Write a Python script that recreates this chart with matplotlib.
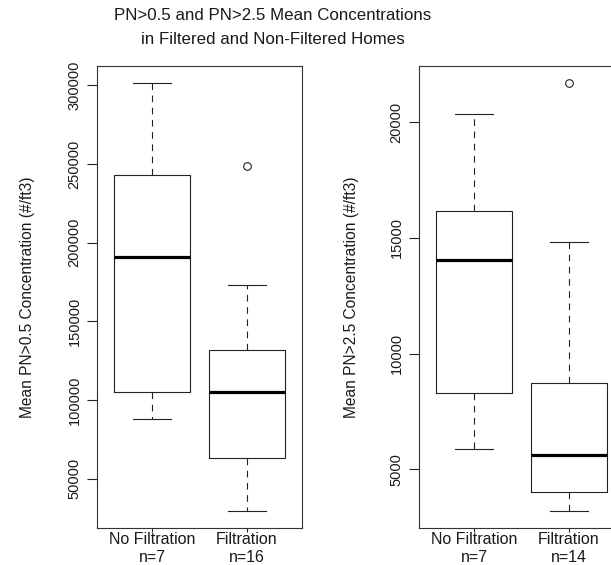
import matplotlib
matplotlib.use("Agg")
import matplotlib.pyplot as plt

plt.rcParams['font.family'] = ['Liberation Sans', 'DejaVu Sans']

# ---- data ----
categories = ["No Filtration", "Filtration"]
pn05_n = [7, 16]
pn05_whislo = [88000, 29600]
pn05_q1 = [104900, 63200]
pn05_med = [191000, 105100]
pn05_q3 = [243400, 131600]
pn05_whishi = [301500, 173000]
pn05_fliers = [[], [249100]]

pn25_n = [7, 14]
pn25_whislo = [5895, 3203]
pn25_q1 = [8289, 4024]
pn25_med = [14036, 5622]
pn25_q3 = [16180, 8734]
pn25_whishi = [20330, 14827]
pn25_fliers = [[], [21685]]

pn05_ticks = [50000, 100000, 150000, 200000, 250000, 300000]
pn25_ticks = [5000, 10000, 15000, 20000]

title_lines = ["PN>0.5 and PN>2.5 Mean Concentrations",
               "in Filtered and Non-Filtered Homes"]
ylabels = ["Mean PN>0.5 Concentration (#/ft3)", "Mean PN>2.5 Concentration (#/ft3)"]

W, H = 611, 565
fig = plt.figure(figsize=(W / 100, H / 100), dpi=100)
TXT = '#1a1a1a'


def make_stats(wlo, q1, med, q3, whi, fl):
    return [dict(whislo=a, q1=b, med=c, q3=d, whishi=e, fliers=f)
            for a, b, c, d, e, f in zip(wlo, q1, med, q3, whi, fl)]


def panel(rect, stats, ns, ticks, ylabel, ylab_x):
    ax = fig.add_axes(rect)
    ax.bxp(stats, positions=[1, 2], widths=0.8, capwidths=0.4,
           boxprops=dict(color='#222222', lw=0.8),
           medianprops=dict(color='black', lw=2.3, solid_capstyle='butt'),
           whiskerprops=dict(color='#222222', lw=0.8, linestyle=(0, (6, 5))),
           capprops=dict(color='#222222', lw=0.8),
           flierprops=dict(marker='o', markerfacecolor='none', markeredgecolor='#222222',
                           markersize=5.5, markeredgewidth=0.8),
           manage_ticks=False)
    vals = []
    for s in stats:
        vals += [s['whislo'], s['whishi']] + list(s['fliers'])
    lo, hi = min(vals), max(vals)
    r = hi - lo
    ax.set_ylim(lo - 0.04 * r, hi + 0.04 * r)
    ax.set_xlim(0.42, 2.58)
    ax.set_yticks(ticks)
    ax.set_yticklabels([str(t) for t in ticks], rotation=90, va='center', fontsize=10.5,
                       color=TXT)
    ax.set_xticks([1, 2])
    ax.set_xticklabels([f"{c}\nn={n}" for c, n in zip(categories, ns)], fontsize=11.5,
                       linespacing=1.25, color=TXT)
    ax.tick_params(axis='y', length=7.2, width=0.8, pad=4, color='#222222')
    ax.tick_params(axis='x', length=3, width=0.8, pad=0, color='#222222')
    for sp in ax.spines.values():
        sp.set_linewidth(0.8)
        sp.set_color('#333333')
    fig.text(ylab_x / W, 1 - 297 / H, ylabel, rotation=90, ha='center', va='center',
             fontsize=11.2, color=TXT)
    return ax


bottom = 37 / H
height = 462 / H
panel([97.3 / W, bottom, 204.7 / W, height],
      make_stats(pn05_whislo, pn05_q1, pn05_med, pn05_q3, pn05_whishi, pn05_fliers),
      pn05_n, pn05_ticks, ylabels[0], 28)
panel([419.3 / W, bottom, 204.7 / W, height],
      make_stats(pn25_whislo, pn25_q1, pn25_med, pn25_q3, pn25_whishi, pn25_fliers),
      pn25_n, pn25_ticks, ylabels[1], 351.7)

fig.text(273 / W, 1 - 16 / H, title_lines[0], ha='center', va='center', fontsize=12.2,
         color=TXT)
fig.text(273 / W, 1 - 39 / H, title_lines[1], ha='center', va='center', fontsize=12.2,
         color=TXT)

fig.savefig("out.png", dpi=100)
